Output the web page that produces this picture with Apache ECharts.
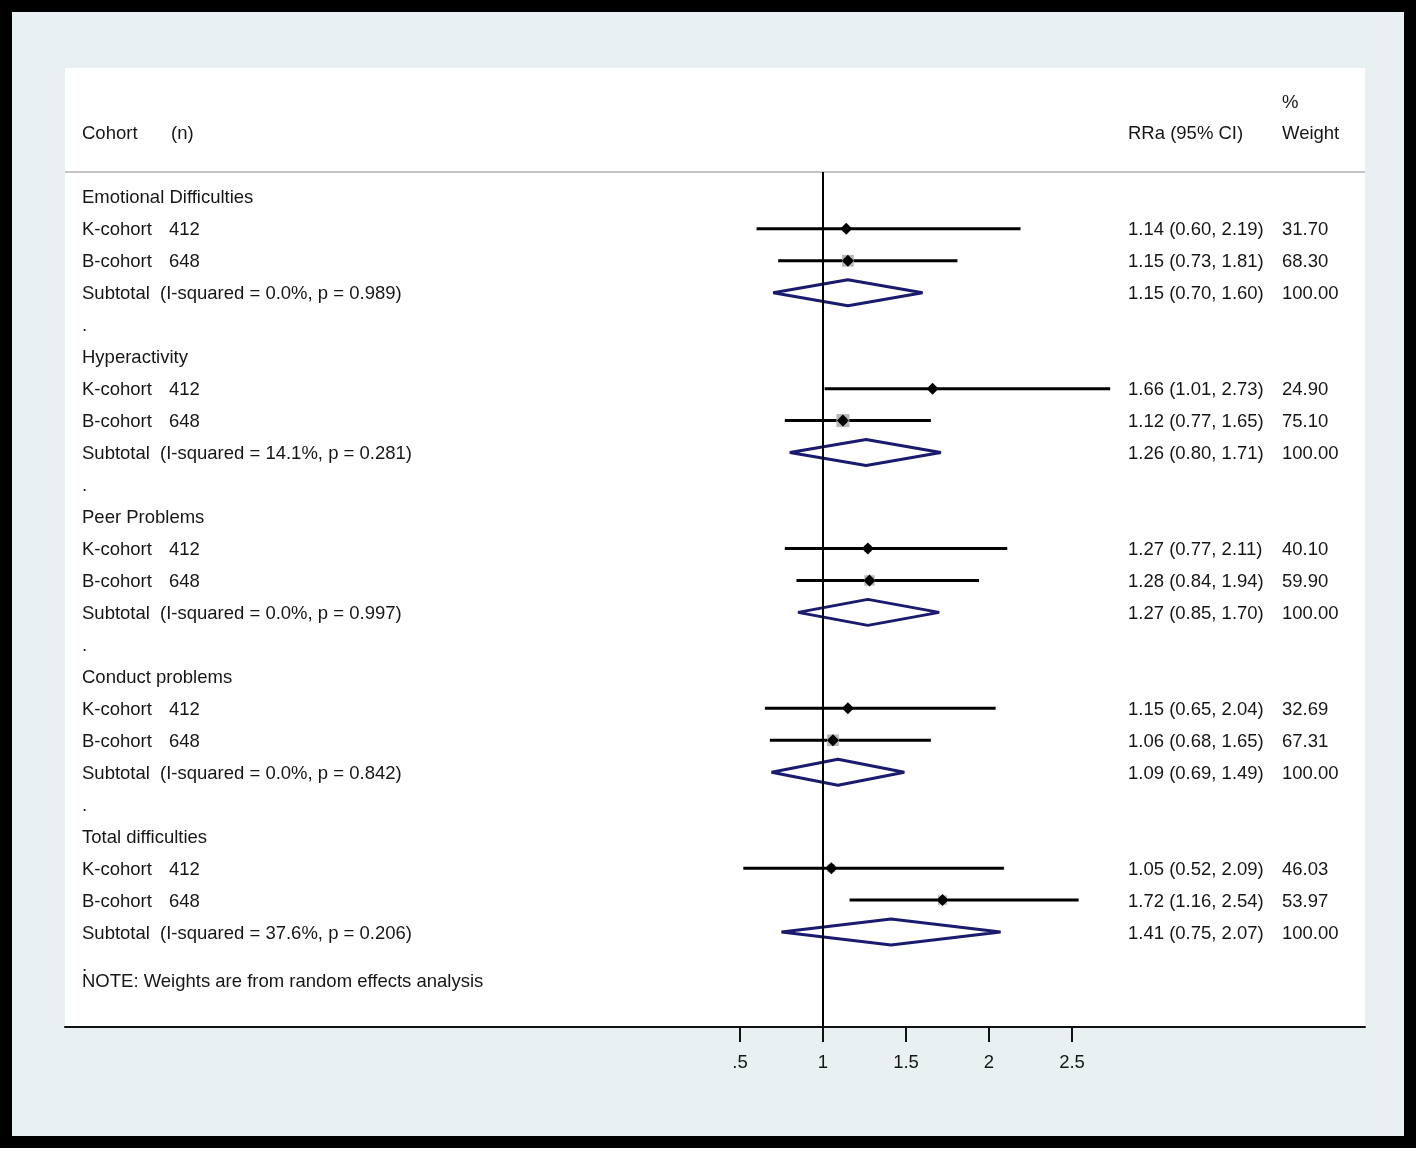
<!DOCTYPE html>
<html><head><meta charset="utf-8">
<script src="https://cdn.jsdelivr.net/npm/echarts@6/dist/echarts.min.js"></script>
<style>
html,body{margin:0;padding:0;background:#fff;}
#frame{position:absolute;left:0;top:0;width:1416px;height:1148px;box-sizing:border-box;border:12px solid #000;background:#e8f0f2;}
#chart{position:absolute;left:0;top:0;width:1418px;height:1151px;}
</style></head><body>
<div id="frame"></div><div id="chart"></div>
<script>
// ---- data ----
const groupNames = ['Emotional Difficulties', 'Hyperactivity', 'Peer Problems', 'Conduct problems', 'Total difficulties'];
const cohortNames = ['K-cohort', 'B-cohort'];
const cohortN = [412, 648];
const studyEst = [[1.14, 1.15], [1.66, 1.12], [1.27, 1.28], [1.15, 1.06], [1.05, 1.72]];
const studyLo  = [[0.60, 0.73], [1.01, 0.77], [0.77, 0.84], [0.65, 0.68], [0.52, 1.16]];
const studyHi  = [[2.19, 1.81], [2.73, 1.65], [2.11, 1.94], [2.04, 1.65], [2.09, 2.54]];
const studyWeight = [[31.70, 68.30], [24.90, 75.10], [40.10, 59.90], [32.69, 67.31], [46.03, 53.97]];
const subEst = [1.15, 1.26, 1.27, 1.09, 1.41];
const subLo  = [0.70, 0.80, 0.85, 0.69, 0.75];
const subHi  = [1.60, 1.71, 1.70, 1.49, 2.07];
const subWeight = [100.00, 100.00, 100.00, 100.00, 100.00];
const iSquared = ['0.0%', '14.1%', '0.0%', '0.0%', '37.6%'];
const pValues = ['0.989', '0.281', '0.997', '0.842', '0.206'];
const tickValues = [0.5, 1, 1.5, 2, 2.5];
const tickLabels = ['.5', '1', '1.5', '2', '2.5'];
const noteText = 'NOTE: Weights are from random effects analysis';

// ---- build rows ----
const rows = [];
rows.push({kind: 'header', row: -3});
groupNames.forEach((g, gi) => {
  const base = gi * 5;
  rows.push({kind: 'group', row: base, g: gi});
  cohortNames.forEach((c, ci) => rows.push({kind: 'study', row: base + 1 + ci, g: gi, c: ci}));
  rows.push({kind: 'sub', row: base + 3, g: gi});
  rows.push({kind: 'dot', row: base + 4});
});
rows.push({kind: 'note', row: 24.5});

const seriesData = rows.map(r => {
  if (r.kind === 'study') return [studyEst[r.g][r.c], r.row];
  if (r.kind === 'sub') return [subEst[r.g], r.row];
  return [1, r.row];
});

const FONT_FAMILY = '"Liberation Sans", Arial, Helvetica, sans-serif';
const FS = 18.5;
const TXT = '#161616';
const TEXT_DY = 1.5;
const X_LABEL = 82, X_N = 169, X_SUBTXT = 160, X_NHDR = 171, X_CI = 1128, X_W = 1282;
const f2 = v => v.toFixed(2);

function renderItem(params, api) {
  const r = rows[params.dataIndex];
  const y = api.coord([1, r.row])[1];
  const ch = [];
  const txt = (x, s, yy) => ch.push({type: 'text', style: {x: x, y: (yy === undefined ? y : yy) + TEXT_DY, text: s, fill: TXT, fontSize: FS, fontFamily: FONT_FAMILY, align: 'left', verticalAlign: 'middle'}});
  if (r.kind === 'header') {
    const y2 = api.coord([1, r.row + 1])[1];
    txt(X_W, '%');
    txt(X_LABEL, 'Cohort', y2);
    txt(X_NHDR, '(n)', y2);
    txt(X_CI, 'RRa (95% CI)', y2);
    txt(X_W, 'Weight', y2);
  } else if (r.kind === 'group') {
    txt(X_LABEL, groupNames[r.g]);
  } else if (r.kind === 'study') {
    const e = studyEst[r.g][r.c], lo = studyLo[r.g][r.c], hi = studyHi[r.g][r.c], w = studyWeight[r.g][r.c];
    const x1 = api.coord([lo, r.row])[0], x2 = api.coord([hi, r.row])[0], xc = api.coord([e, r.row])[0];
    const s = 0.173 * w;
    ch.push({type: 'line', shape: {x1: x1, y1: y, x2: x2, y2: y}, style: {stroke: '#000', lineWidth: 3}});
    ch.push({type: 'rect', shape: {x: xc - s / 2, y: y - s / 2, width: s, height: s}, style: {fill: '#b8b8b8'}});
    ch.push({type: 'polygon', shape: {points: [[xc - 6, y], [xc, y - 6], [xc + 6, y], [xc, y + 6]]}, style: {fill: '#000'}});
    txt(X_LABEL, cohortNames[r.c]);
    txt(X_N, String(cohortN[r.c]));
    txt(X_CI, f2(e) + ' (' + f2(lo) + ', ' + f2(hi) + ')');
    txt(X_W, f2(w));
  } else if (r.kind === 'sub') {
    const e = subEst[r.g], lo = subLo[r.g], hi = subHi[r.g];
    const x1 = api.coord([lo, r.row])[0], x2 = api.coord([hi, r.row])[0], xc = api.coord([e, r.row])[0];
    ch.push({type: 'polygon', shape: {points: [[x1, y], [xc, y - 13], [x2, y], [xc, y + 13]]}, style: {fill: 'none', stroke: '#1a1a6e', lineWidth: 3, lineJoin: 'bevel'}});
    txt(X_LABEL, 'Subtotal');
    txt(X_SUBTXT, '(I-squared = ' + iSquared[r.g] + ', p = ' + pValues[r.g] + ')');
    txt(X_CI, f2(e) + ' (' + f2(lo) + ', ' + f2(hi) + ')');
    txt(X_W, f2(subWeight[r.g]));
  } else if (r.kind === 'dot') {
    txt(X_LABEL, '.');
  } else if (r.kind === 'note') {
    txt(X_LABEL, noteText);
  }
  return {type: 'group', children: ch};
}

const chart = echarts.init(document.getElementById('chart'), null, {renderer: 'canvas'});
const Y_MIN = -4.03, Y_MAX = 25.97;
chart.setOption({
  backgroundColor: 'transparent',
  animation: false,
  grid: {left: 65, right: 53, top: 68, bottom: 124, show: true, backgroundColor: '#fff', borderWidth: 0},
  xAxis: {
    type: 'value', min: -3.566, max: 4.265, position: 'bottom',
    axisLine: {show: true, onZero: false, lineStyle: {color: '#111', width: 2}},
    axisTick: {show: true, customValues: tickValues, length: 15, lineStyle: {color: '#111', width: 2}},
    axisLabel: {show: true, customValues: tickValues, margin: 26, color: TXT, fontSize: FS, fontFamily: FONT_FAMILY,
      formatter: v => { const i = tickValues.indexOf(v); return i >= 0 ? tickLabels[i] : ''; }},
    splitLine: {show: false}
  },
  yAxis: {type: 'value', inverse: true, min: Y_MIN, max: Y_MAX, show: false, splitLine: {show: false}},
  series: [{
    type: 'custom',
    renderItem: renderItem,
    clip: false,
    encode: {x: 0, y: 1},
    data: seriesData,
    markLine: {
      silent: true, symbol: 'none', label: {show: false}, animation: false,
      data: [
        {yAxis: -0.78, lineStyle: {color: '#c4c4c4', width: 2, type: 'solid'}},
        [{coord: [1, -0.78], lineStyle: {color: '#000', width: 2, type: 'solid'}}, {coord: [1, Y_MAX]}]
      ]
    },
    z: 2
  }]
});
</script>
</body></html>
